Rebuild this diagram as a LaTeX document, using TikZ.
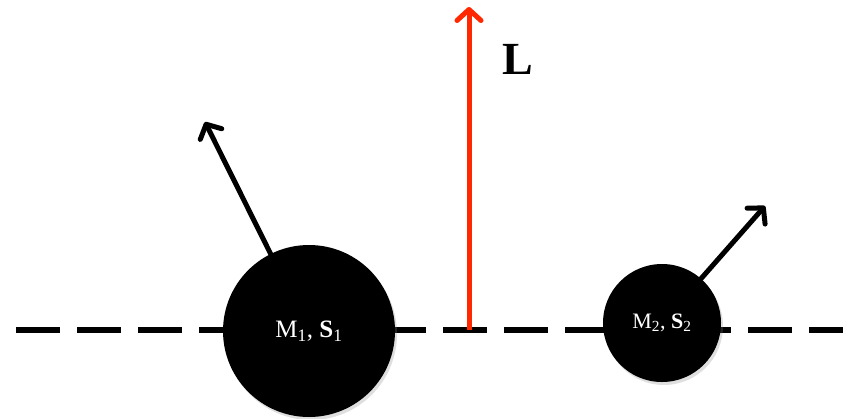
\documentclass[tikz,border=0pt]{standalone}
\usepackage{fontspec}
\setmainfont{Liberation Serif}
\usetikzlibrary{arrows.meta,shadows}
\definecolor{lred}{RGB}{255,40,0}
\tikzset{
  mass/.style={circle,fill=black,draw=none,text=white,inner sep=0pt,
    drop shadow={opacity=0.25,shadow xshift=2pt,shadow yshift=-3pt}},
  vec/.style={line width=5pt,line cap=round,-{Straight Barb[length=11pt,width=24pt,line cap=round,line join=round]}},
  axis/.style={line width=5.5pt,dash pattern=on 44pt off 17pt}
}
\begin{document}
\begin{tikzpicture}[x=1pt,y=-1pt]
\useasboundingbox (0,0) rectangle (843,418);
\coordinate (ls) at (16,330);
\coordinate (le) at (843,330);
\draw[axis] (ls) -- (le);
\node[mass,minimum size=172pt,font=\fontsize{25}{28}\selectfont] (m1) at (309,331) {M\textsubscript{1}, \textbf{S}\textsubscript{1}};
\node[mass,minimum size=118pt,font=\fontsize{22}{25}\selectfont] (m2) at (662,323) {M\textsubscript{2}, \textbf{S}\textsubscript{2}};
\coordinate (t1) at (205,122);
\coordinate (t2) at (765,206);
\draw[vec] (m1) -- (t1);
\draw[vec] (m2) -- (t2);
\coordinate (lb) at (469,330);
\coordinate (lt) at (469,7);
\draw[vec,lred,line cap=butt] (lb) -- (lt);
\node[inner sep=0pt,font=\fontsize{46}{50}\selectfont\bfseries] (L) at (518,59) {L};
\end{tikzpicture}
\end{document}
